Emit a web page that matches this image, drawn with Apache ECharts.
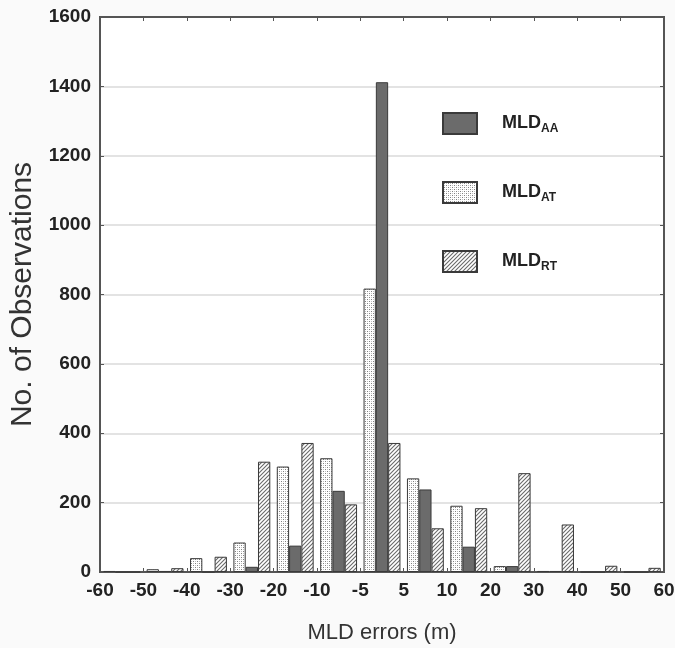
<!DOCTYPE html>
<html>
<head>
<meta charset="utf-8">
<script src="https://cdn.jsdelivr.net/npm/echarts@6/dist/echarts.min.js"></script>
<style>
  html, body { margin: 0; padding: 0; background: #fafafa; }
  #chart { width: 675px; height: 648px; }
</style>
</head>
<body>
<div id="chart"></div>
<script>
// bin edges shown as tick labels, bars sit between two edges
var binEdges = ['-60', '-50', '-40', '-30', '-20', '-10', '-5', '5', '10', '20', '30', '40', '50', '60'];
var bins = binEdges.slice(0, -1).map(function (e, i) { return e + '~' + binEdges[i + 1]; });

var mldAT = [3, 8, 40, 85, 304, 328, 817, 270, 191, 17, 3, 0, 0];
var mldAA = [0, 3, 0, 15, 76, 234, 1412, 238, 73, 17, 3, 0, 0];
var mldRT = [0, 11, 44, 318, 372, 195, 372, 126, 184, 285, 137, 18, 12];

function makePattern(kind) {
    var c = document.createElement('canvas');
    c.width = 4; c.height = 4;
    var ctx = c.getContext('2d');
    ctx.fillStyle = '#fff';
    ctx.fillRect(0, 0, 4, 4);
    if (kind === 'dots') {
        ctx.fillStyle = '#808080';
        ctx.fillRect(1, 1, 1, 1);
        ctx.fillRect(3, 3, 1, 1);
        ctx.fillStyle = '#c0c0c0';
        ctx.fillRect(3, 1, 1, 1);
        ctx.fillRect(1, 3, 1, 1);
    } else {
        ctx.strokeStyle = '#6a6a6a';
        ctx.lineWidth = 1.1;
        ctx.beginPath();
        ctx.moveTo(-1, 5); ctx.lineTo(5, -1);
        ctx.moveTo(-1, 1); ctx.lineTo(1, -1);
        ctx.moveTo(3, 5); ctx.lineTo(5, 3);
        ctx.stroke();
    }
    return { image: c, repeat: 'repeat' };
}

var chart = echarts.init(document.getElementById('chart'));
var barBorder = { borderColor: '#3a3a3a', borderWidth: 1 };
var tickFont = { fontFamily: 'Liberation Sans', fontSize: 19, fontWeight: 'bold', color: '#222' };

chart.setOption({
    backgroundColor: '#fafafa',
    animation: false,
    grid: {
        left: 100, right: 11, top: 17, bottom: 76,
        outerBoundsMode: 'none',
        show: true, backgroundColor: '#fff', borderColor: '#555', borderWidth: 2
    },
    legend: {
        data: ['MLD_AA', 'MLD_AT', 'MLD_RT'],
        orient: 'vertical',
        left: 437, top: 107,
        itemWidth: 34, itemHeight: 21, itemGap: 46,
        icon: 'rect',
        formatter: function (name) {
            return '{a|MLD}{b|' + name.split('_')[1] + '}';
        },
        textStyle: {
            rich: {
                a: { fontFamily: 'Liberation Sans', fontSize: 18, fontWeight: 'bold', color: '#222', padding: [0, 0, 0, 20] },
                b: { fontFamily: 'Liberation Sans', fontSize: 12, fontWeight: 'bold', color: '#222', padding: [10, 0, 0, 0] }
            }
        }
    },
    xAxis: [
        { type: 'category', data: bins, show: false },
        {
            type: 'category', data: binEdges, boundaryGap: false, position: 'bottom',
            name: 'MLD errors (m)', nameLocation: 'middle', nameGap: 50,
            nameTextStyle: { fontFamily: 'Liberation Sans', fontSize: 22, color: '#333' },
            axisLine: { lineStyle: { color: '#555', width: 2 } },
            axisTick: { inside: true, length: 4, lineStyle: { color: '#555' } },
            axisLabel: Object.assign({ margin: 9 }, tickFont),
            splitLine: { show: false }
        },
        {
            type: 'category', data: binEdges, boundaryGap: false, position: 'top',
            axisLine: { lineStyle: { color: '#555', width: 2 } },
            axisTick: { inside: true, length: 4, lineStyle: { color: '#555' } },
            axisLabel: { show: false },
            splitLine: { show: false }
        }
    ],
    yAxis: [
        {
            type: 'value', min: 0, max: 1600, interval: 200,
            name: 'No. of Observations', nameLocation: 'middle', nameGap: 55,
            nameTextStyle: { fontFamily: 'Liberation Sans', fontSize: 30, color: '#333' },
            axisLine: { show: true, lineStyle: { color: '#555', width: 2 } },
            axisTick: { show: true, inside: true, length: 4, lineStyle: { color: '#555' } },
            axisLabel: Object.assign({
                margin: 9,
                formatter: function (v) { return String(v); }
            }, tickFont),
            splitLine: { lineStyle: { color: '#dadada', width: 1.5 } }
        },
        {
            type: 'value', min: 0, max: 1600, interval: 200, position: 'right',
            axisLine: { show: true, lineStyle: { color: '#555', width: 2 } },
            axisTick: { show: true, inside: true, length: 4, lineStyle: { color: '#555' } },
            axisLabel: { show: false },
            splitLine: { show: false }
        }
    ],
    series: [
        {
            name: 'MLD_AT', type: 'bar', data: mldAT,
            barGap: '0%', barCategoryGap: '15%',
            itemStyle: Object.assign({ color: makePattern('dots') }, barBorder)
        },
        {
            name: 'MLD_AA', type: 'bar', data: mldAA,
            itemStyle: Object.assign({ color: '#6b6b6b' }, barBorder)
        },
        {
            name: 'MLD_RT', type: 'bar', data: mldRT,
            itemStyle: Object.assign({ color: makePattern('hatch') }, barBorder)
        }
    ]
});
</script>
</body>
</html>
